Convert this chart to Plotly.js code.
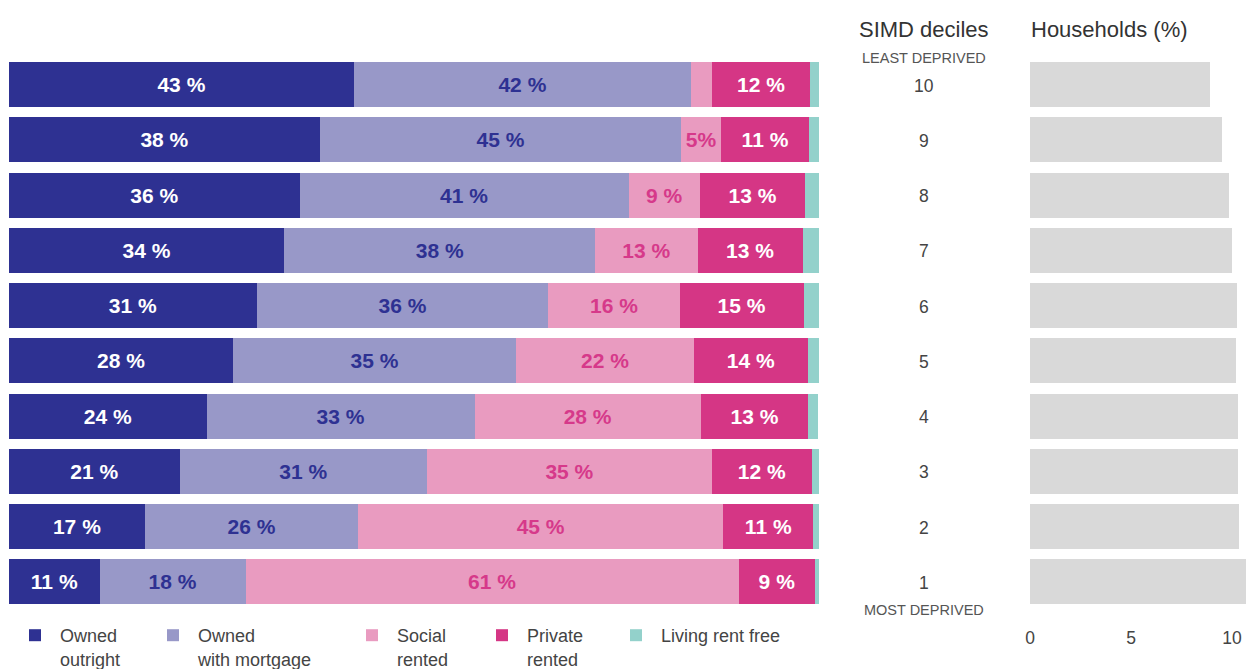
<!DOCTYPE html>
<html>
<head>
<meta charset="utf-8">
<script src="https://cdn.plot.ly/plotly-3.0.1.min.js"></script>
<style>
  html, body { margin: 0; padding: 0; background: #fff; }
  #chart { width: 1246px; height: 669px; }
</style>
</head>
<body>
<div id="chart"></div>
<script>
// SIMD deciles, least deprived first
const deciles = [10, 9, 8, 7, 6, 5, 4, 3, 2, 1];

// tenure shares (%) per decile
const ownedOutright = [42.6, 38.4, 35.9, 34.0, 30.6, 27.7, 24.4, 21.1, 16.8, 11.2];
const ownedMortgage = [41.6, 44.6, 40.6, 38.4, 36.0, 34.9, 33.1, 30.5, 26.3, 18.0];
const socialRented = [2.6, 4.9, 8.8, 12.6, 16.2, 22.0, 27.9, 35.2, 45.1, 60.9];
const privateRented = [12.1, 10.9, 13.0, 13.0, 15.3, 14.0, 13.3, 12.3, 11.1, 9.4];
const rentFree = [1.1, 1.2, 1.7, 2.1, 1.9, 1.5, 1.2, 0.9, 0.7, 0.5];

// share of all households in each decile (%)
const households = [8.9, 9.5, 9.85, 10.0, 10.25, 10.2, 10.3, 10.3, 10.35, 10.9];

// labels printed on the segments
const outrightLabels = ['43 %', '38 %', '36 %', '34 %', '31 %', '28 %', '24 %', '21 %', '17 %', '11 %'];
const mortgageLabels = ['42 %', '45 %', '41 %', '38 %', '36 %', '35 %', '33 %', '31 %', '26 %', '18 %'];
const socialLabels = ['', '5%', '9 %', '13 %', '16 %', '22 %', '28 %', '35 %', '45 %', '61 %'];
const privateLabels = ['12 %', '11 %', '13 %', '13 %', '15 %', '14 %', '13 %', '12 %', '11 %', '9 %'];

const householdTicks = [0, 5, 10];

const fontFamily = 'Liberation Sans, Arial, sans-serif';
const W = 1246, H = 669;

function px(x) { return x / W; }
function py(y) { return 1 - y / H; }

function tenureBar(name, values, color, labels, textColor, legendId) {
    return {
        type: 'bar',
        orientation: 'h',
        name: name,
        x: values,
        y: deciles,
        xaxis: 'x',
        yaxis: 'y',
        marker: { color: color, line: { width: 0 } },
        text: labels,
        textposition: labels ? 'inside' : 'none',
        insidetextanchor: 'middle',
        textangle: 0,
        constraintext: 'none',
        textfont: { family: fontFamily, size: 21, color: textColor, weight: 'bold' },
        hoverinfo: 'name+x',
        legend: legendId,
    };
}

const data = [
    tenureBar('Owned<br>outright', ownedOutright, '#2e3192', outrightLabels, '#ffffff', 'legend'),
    tenureBar('Owned<br>with mortgage', ownedMortgage, '#9898c8', mortgageLabels, '#2e3192', 'legend2'),
    tenureBar('Social<br>rented', socialRented, '#e99bc0', socialLabels, '#d6398a', 'legend3'),
    tenureBar('Private<br>rented', privateRented, '#d53685', privateLabels, '#ffffff', 'legend4'),
    tenureBar('Living rent free', rentFree, '#93d1cb', null, '#ffffff', 'legend5'),
    {
        type: 'bar',
        orientation: 'h',
        name: 'Households',
        x: households,
        y: deciles,
        xaxis: 'x2',
        yaxis: 'y',
        marker: { color: '#d9d9d9', line: { width: 0 } },
        showlegend: false,
        hoverinfo: 'x',
    },
];

function legendAt(xPx) {
    return {
        xref: 'container',
        yref: 'container',
        x: px(xPx),
        xanchor: 'left',
        y: py(617),
        yanchor: 'top',
        orientation: 'v',
        valign: 'top',
        itemwidth: 40,
        bgcolor: 'rgba(0,0,0,0)',
        borderwidth: 0,
        font: { family: fontFamily, size: 18, color: '#444444' },
        tracegroupgap: 0,
    };
}

const annotations = deciles.map(d => ({
    xref: 'paper', yref: 'y',
    x: px(924), y: d,
    text: String(d),
    showarrow: false,
    xanchor: 'center', yanchor: 'middle',
    yshift: -1,
    font: { family: fontFamily, size: 17.5, color: '#444444' },
}));

annotations.push(
    {
        xref: 'paper', yref: 'paper', x: px(924), y: py(29),
        text: 'SIMD deciles', showarrow: false,
        xanchor: 'center', yanchor: 'middle',
        font: { family: fontFamily, size: 22, color: '#333333' },
    },
    {
        xref: 'paper', yref: 'paper', x: px(1029), y: py(29),
        text: 'Households (%)', showarrow: false,
        xanchor: 'left', yanchor: 'middle',
        font: { family: fontFamily, size: 22, color: '#333333' },
    },
    {
        xref: 'paper', yref: 'paper', x: px(924), y: py(58),
        text: 'LEAST DEPRIVED', showarrow: false,
        xanchor: 'center', yanchor: 'middle',
        font: { family: fontFamily, size: 14.5, color: '#555555' },
    },
    {
        xref: 'paper', yref: 'paper', x: px(924), y: py(610),
        text: 'MOST DEPRIVED', showarrow: false,
        xanchor: 'center', yanchor: 'middle',
        font: { family: fontFamily, size: 14.5, color: '#555555' },
    }
);

const layout = {
    width: W,
    height: H,
    margin: { l: 0, r: 0, t: 0, b: 0, autoexpand: false },
    paper_bgcolor: '#ffffff',
    plot_bgcolor: '#ffffff',
    barmode: 'stack',
    bargap: 0.185,
    font: { family: fontFamily, color: '#444444' },
    xaxis: {
        domain: [px(9), px(819)],
        range: [0, 100],
        visible: false,
        fixedrange: true,
    },
    xaxis2: {
        domain: [px(1030), 1],
        range: [0, 10.69],
        anchor: 'y',
        tickvals: householdTicks,
        ticktext: householdTicks.map(String),
        showgrid: false,
        zeroline: false,
        showline: false,
        ticks: '',
        ticklabelstandoff: 16,
        tickfont: { family: fontFamily, size: 17.5, color: '#444444' },
        fixedrange: true,
    },
    yaxis: {
        domain: [py(609.6), py(57)],
        range: [0.5, 10.5],
        visible: false,
        fixedrange: true,
    },
    legend: legendAt(10),
    legend2: legendAt(148),
    legend3: legendAt(347),
    legend4: legendAt(477),
    legend5: legendAt(611),
    annotations: annotations,
};

Plotly.newPlot('chart', data, layout, { displayModeBar: false, responsive: false });
</script>
</body>
</html>
